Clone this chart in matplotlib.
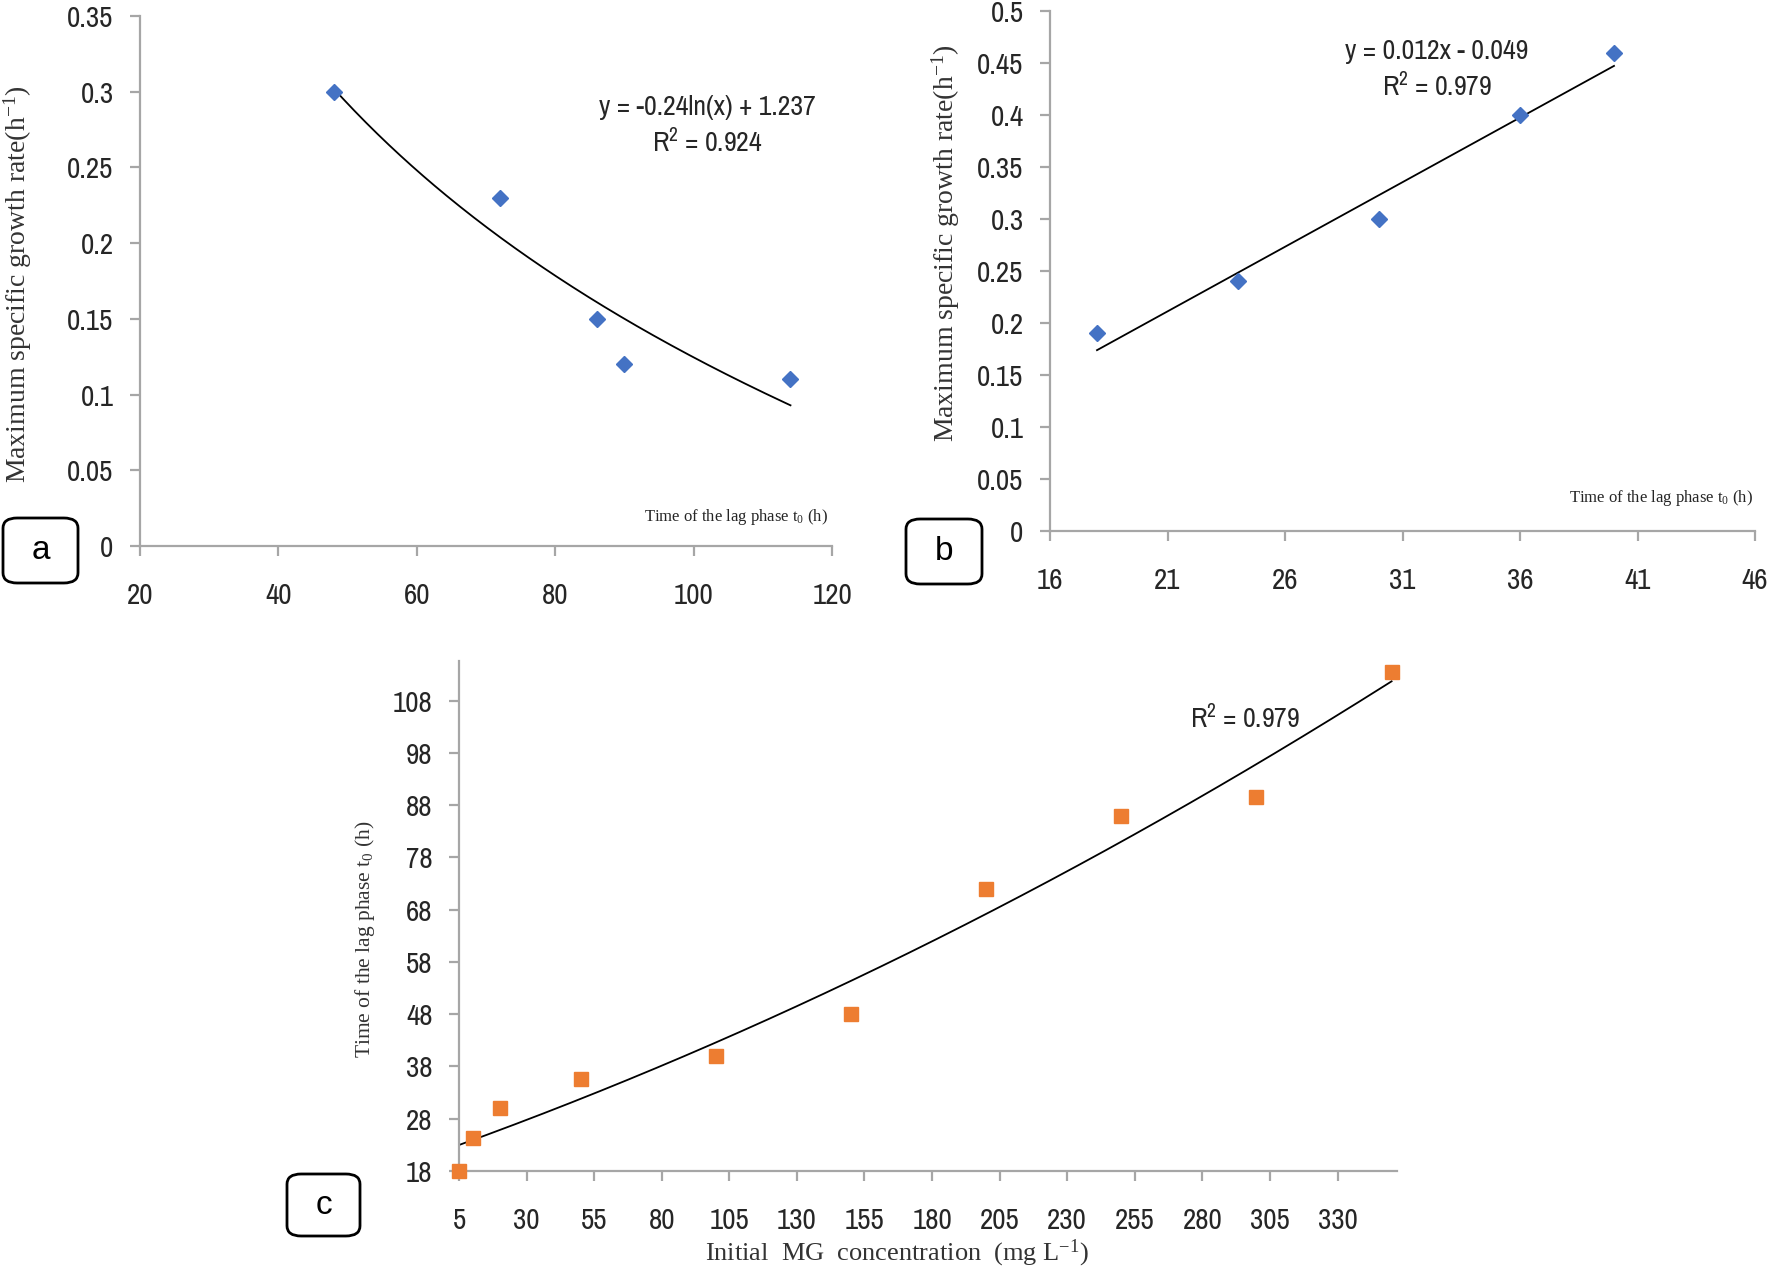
import numpy as np
import matplotlib
matplotlib.use("Agg")
import matplotlib.pyplot as plt
from matplotlib.patches import FancyBboxPatch
from matplotlib.ticker import FuncFormatter, MultipleLocator

# ---- data ----
# panel a: lag time vs max specific growth rate
a_lag = [48, 72, 86, 90, 114]
a_rate = [0.30, 0.23, 0.15, 0.12, 0.11]

# panel b
b_lag = [18, 24, 30, 36, 40]
b_rate = [0.19, 0.24, 0.30, 0.40, 0.46]

# panel c: initial MG concentration vs lag time
c_conc = [5, 10, 20, 50, 100, 150, 200, 250, 300, 350]
c_lag = [18, 24.3, 30.1, 35.7, 40.1, 48.1, 71.9, 86.0, 89.6, 113.5]

a_eq = "y = -0.24ln(x) + 1.237"
a_r2 = "R$^2$ = 0.924"
b_eq = "y = 0.012x - 0.049"
b_r2 = "R$^2$ = 0.979"
c_r2 = "R$^2$ = 0.979"

# narrow sans like the squeezed Excel text, with fallbacks
narrow = ["Archivo Narrow", "Liberation Sans Narrow", "Liberation Sans", "DejaVu Sans"]
serif = ["Liberation Serif", "DejaVu Serif"]

plt.rcParams["font.family"] = narrow
plt.rcParams["mathtext.default"] = "regular"

BLUE = "#4472C4"
ORANGE = "#ED7D31"
AXC = "#A6A6A6"
TXT = "#262626"

W, H = 1770, 1272
fig = plt.figure(figsize=(W / 100, H / 100), dpi=100)


def box(px):
    # px = (left, right, top, bottom) in pixels -> figure fraction
    l, r, t, b = px
    return [l / W, 1 - b / H, (r - l) / W, (b - t) / H]


def style(ax):
    for s in ["top", "right"]:
        ax.spines[s].set_visible(False)
    for s in ["left", "bottom"]:
        ax.spines[s].set_color(AXC)
        ax.spines[s].set_linewidth(1.6)
    ax.tick_params(axis="both", colors=AXC, length=7, width=1.6, labelsize=21,
                   labelcolor=TXT)
    ax.tick_params(axis="y", pad=12)
    ax.tick_params(axis="x", pad=19)
    ax.yaxis.set_major_formatter(FuncFormatter(lambda v, p: f"{v:g}"))


def label_box(x0, y0, x1, y1, letter):
    p = FancyBboxPatch((x0 / W, 1 - y1 / H), (x1 - x0) / W, (y1 - y0) / H,
                       boxstyle="round,pad=0,rounding_size=0.008",
                       transform=fig.transFigure, fill=False, ec="black", lw=2)
    fig.patches.append(p)
    fig.text((x0 + x1) / 2 / W, 1 - (y0 + y1) / 2 / H, letter, ha="center",
             va="center", fontsize=24, family=["Liberation Sans", "DejaVu Sans"])


# ---------------- panel a ----------------
ax1 = fig.add_axes(box((140, 832, 16, 546)))
style(ax1)
ax1.set_xlim(20, 120)
ax1.set_ylim(0, 0.35)
ax1.xaxis.set_major_locator(MultipleLocator(20))
ax1.yaxis.set_major_locator(MultipleLocator(0.05))
ax1.plot(a_lag, a_rate, "D", color=BLUE, ms=8, zorder=3)
k, c0 = np.polyfit(np.log(a_lag), a_rate, 1)
xs = np.linspace(min(a_lag), max(a_lag), 200)
ax1.plot(xs, k * np.log(xs) + c0, color="black", lw=1.3)
ax1.text(0.82, 0.828, a_eq, transform=ax1.transAxes, ha="center", va="center",
         fontsize=20, color=TXT)
ax1.text(0.82, 0.760, a_r2, transform=ax1.transAxes, ha="center", va="center",
         fontsize=20, color=TXT)
ax1.text(0.995, 0.035, "Time of the lag phase t$_0$ (h)", transform=ax1.transAxes,
         ha="right", va="bottom", fontsize=12, family=serif, color=TXT)
fig.text(18 / W, 1 - 284 / H, "Maximum specific growth rate(h$^{-1}$)", rotation=90,
         ha="center", va="center", fontsize=20, family=serif, color="#333333")
label_box(3, 518, 78, 583, "a")

# ---------------- panel b ----------------
ax2 = fig.add_axes(box((1050, 1755, 11, 531)))
style(ax2)
ax2.set_xlim(16, 46)
ax2.set_ylim(0, 0.5)
ax2.set_xticks(np.arange(16, 47, 5))
ax2.yaxis.set_major_locator(MultipleLocator(0.05))
ax2.plot(b_lag, b_rate, "D", color=BLUE, ms=8, zorder=3)
m, q = np.polyfit(b_lag, b_rate, 1)
xs = np.linspace(min(b_lag), max(b_lag), 50)
ax2.plot(xs, m * xs + q, color="black", lw=1.3)
ax2.text(0.549, 0.923, b_eq, transform=ax2.transAxes, ha="center", va="center",
         fontsize=20, color=TXT)
ax2.text(0.549, 0.854, b_r2, transform=ax2.transAxes, ha="center", va="center",
         fontsize=20, color=TXT)
ax2.text(0.997, 0.045, "Time of the lag phase t$_0$ (h)", transform=ax2.transAxes,
         ha="right", va="bottom", fontsize=12, family=serif, color=TXT)
fig.text(946 / W, 1 - 243 / H, "Maximum specific growth rate(h$^{-1}$)", rotation=90,
         ha="center", va="center", fontsize=20, family=serif, color="#333333")
label_box(906, 519, 982, 584, "b")

# ---------------- panel c ----------------
ax3 = fig.add_axes(box((459, 1397, 661, 1171)))
style(ax3)
ax3.set_xlim(5, 352)
ax3.set_ylim(18, 115.6)
ax3.set_xticks(np.arange(5, 331, 25))
ax3.set_yticks(np.arange(18, 109, 10))
ax3.plot(c_conc, c_lag, "s", color=ORANGE, ms=10, zorder=3, clip_on=False)
pc = np.polyfit(c_conc, c_lag, 2)
xs = np.linspace(min(c_conc), max(c_conc), 200)
ax3.plot(xs, np.polyval(pc, xs), color="black", lw=1.3)
ax3.text(0.838, 0.886, c_r2, transform=ax3.transAxes, ha="center", va="center",
         fontsize=20, color=TXT)
fig.text(365 / W, 1 - 939 / H, "Time of the lag phase t$_0$ (h)", rotation=90,
         ha="center", va="center", fontsize=15.5, family=serif, color="#333333")
fig.text(897 / W, 1 - 1253 / H, "Initial  MG  concentration  (mg L$^{-1}$)",
         ha="center", va="center", fontsize=19, family=serif, color="#333333")
label_box(287, 1174, 360, 1236, "c")

fig.savefig("out.png", dpi=100)
